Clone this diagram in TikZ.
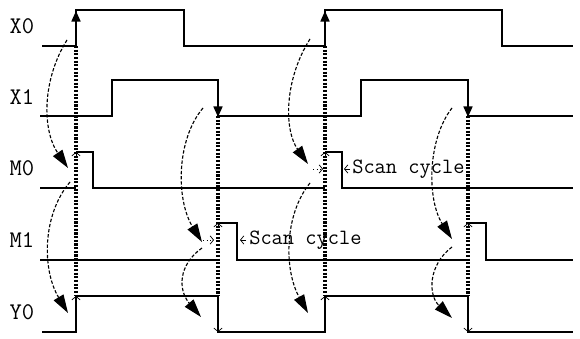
\documentclass[tikz,border=0pt]{standalone}
\usetikzlibrary{arrows.meta}

\begin{document}
\begin{tikzpicture}[x=0.025cm,y=-0.025cm,
  wave/.style={line width=0.9pt},
  sync/.style={line width=2.2pt,dash pattern=on 1.5pt off 1.1pt},
  cause/.style={line width=0.8pt,dash pattern=on 2.4pt off 1.3pt,-{Triangle[length=13pt,width=8pt]}},
  tick/.style={line width=0.5pt,-{Straight Barb[length=2.5pt,width=6pt]}},
  edgearrow/.style={line width=0.9pt,-{Triangle[length=7.5pt,width=6.5pt]}},
  sig/.style={font=\ttfamily\fontsize{17}{17}\selectfont},
  note/.style={font=\ttfamily\fontsize{15.5}{15.5}\selectfont,anchor=west,inner sep=0pt}]
  \useasboundingbox (0,0) rectangle (580,339);

  % signal names
  \node[sig] (lx0) at (22,26) {X0};
  \node[sig] (lx1) at (22,97) {X1};
  \node[sig] (lm0) at (22,168) {M0};
  \node[sig] (lm1) at (22,240) {M1};
  \node[sig] (ly0) at (22,312) {Y0};

  % waveforms
  \draw[wave] (42,46) -- (76,46) -- (76,10) -- (184,10) -- (184,46) -- (325,46) -- (325,10) -- (502,10) -- (502,46) -- (573,46);
  \draw[wave] (40,116) -- (112,116) -- (112,80) -- (218,80) -- (218,116) -- (361,116) -- (361,80) -- (468,80) -- (468,116) -- (573,116);
  \draw[wave] (40,188) -- (76,188);
  \draw[wave] (76,152) -- (93,152) -- (93,188) -- (325,188);
  \draw[wave] (325,152) -- (342,152) -- (342,188) -- (573,188);
  \draw[wave] (40,260) -- (218,260);
  \draw[wave] (218,223) -- (237,223) -- (237,260) -- (468,260);
  \draw[wave] (468,223) -- (486,223) -- (486,260) -- (573,260);
  \draw[wave] (42,332) -- (76,332) -- (76,296) -- (218,296) -- (218,332) -- (325,332) -- (325,296) -- (468,296) -- (468,332) -- (573,332);

  % input edges
  \draw[edgearrow] (76,30) -- (76,11);
  \draw[edgearrow] (325,30) -- (325,11);
  \draw[edgearrow] (218,95) -- (218,117);
  \draw[edgearrow] (468,95) -- (468,117);

  % scan points
  \draw[sync] (76,46) -- (76,296);
  \draw[sync] (218,116) -- (218,296);
  \draw[sync] (325,46) -- (325,296);
  \draw[sync] (468,116) -- (468,296);
  \foreach \x/\y in {76/152,76/296,218/223,325/152,325/296,468/223}
    \draw[tick] (\x,\y+5) -- (\x,\y);
  \foreach \x in {218,468}
    \draw[tick] (\x,327) -- (\x,332);

  % cause and effect
  \coordinate (a1) at (67,40);   \coordinate (b1) at (68,168);
  \coordinate (a2) at (70,182);  \coordinate (b2) at (68,313);
  \coordinate (a3) at (203,108); \coordinate (b3) at (202,242);
  \coordinate (a4) at (202,248); \coordinate (b4) at (201,317);
  \coordinate (a5) at (310,39);  \coordinate (b5) at (308,164);
  \coordinate (a6) at (310,183); \coordinate (b6) at (308,313);
  \coordinate (a7) at (452,108); \coordinate (b7) at (452,239);
  \coordinate (a8) at (452,247); \coordinate (b8) at (452,318);
  \draw[cause] (a1) .. controls (42,80) and (42,130) .. (b1);
  \draw[cause] (a2) .. controls (42,215) and (42,270) .. (b2);
  \draw[cause] (a3) .. controls (176,140) and (176,200) .. (b3);
  \draw[cause] (a4) .. controls (178,265) and (178,290) .. (b4);
  \draw[cause] (a5) .. controls (284,80) and (284,130) .. (b5);
  \draw[cause] (a6) .. controls (284,215) and (284,270) .. (b6);
  \draw[cause] (a7) .. controls (427,140) and (427,200) .. (b7);
  \draw[cause] (a8) .. controls (428,265) and (428,295) .. (b8);

  % scan cycle width
  \draw[tick,dotted] (203,240) -- (214,240);
  \draw[tick] (246,240) -- (240,240);
  \node[note] (scan1) at (249,240) {Scan cycle};
  \draw[tick,dotted] (313,169) -- (323,169);
  \draw[tick] (350,169) -- (344,169);
  \node[note] (scan2) at (352,169) {Scan cycle};
\end{tikzpicture}
\end{document}
